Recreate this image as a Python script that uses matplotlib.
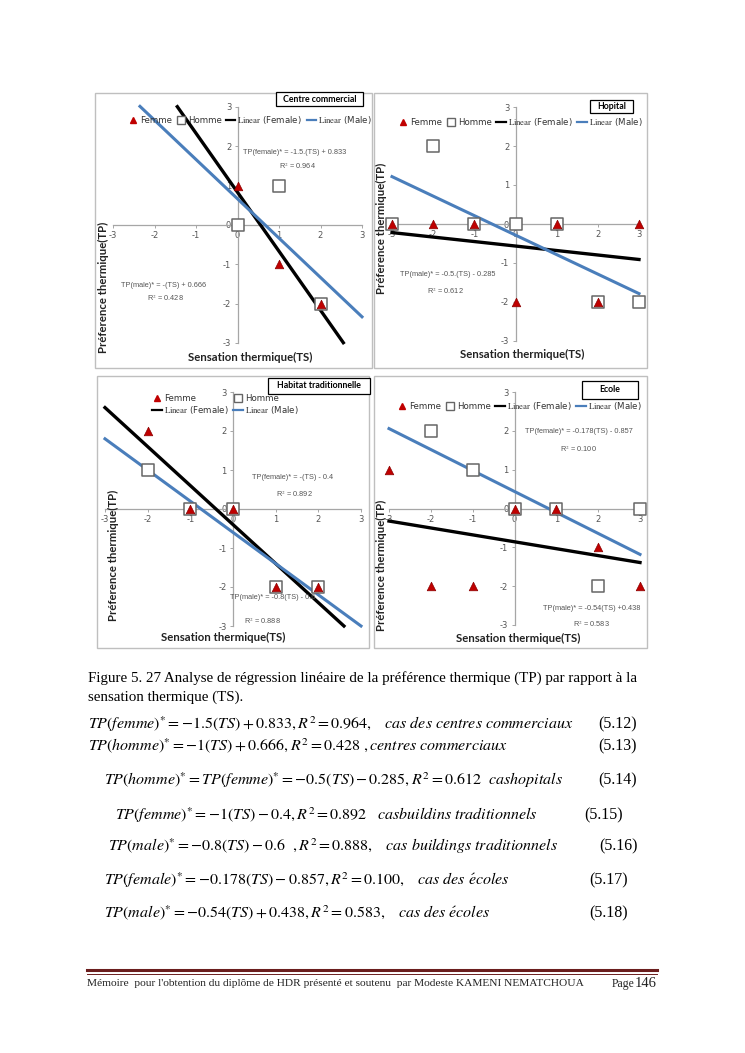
import matplotlib
matplotlib.use("Agg")
import matplotlib.pyplot as plt
from matplotlib.lines import Line2D
from matplotlib.patches import Rectangle
import numpy as np

plt.rcParams['mathtext.fontset'] = 'stix'

W, H = 745, 1053
fig = plt.figure(figsize=(W / 100, H / 100), dpi=100)
fig.patch.set_facecolor('white')

# ---------------- data ----------------
titles = ["Centre commercial", "Hopital", "Habitat traditionnelle", "Ecole"]

femme_x = [[0, 1, 2], [-3, -2, -1, 1, 3, 0, 2], [-2, -1, 0, 1, 2], [-3, -2, -1, 0, 1, 2, 3]]
femme_y = [[1, -1, -2], [0, 0, 0, 0, 0, -2, -2], [2, 0, 0, -2, -2], [1, -2, -2, 0, 0, -1, -2]]
homme_x = [[0, 1, 2], [-3, -2, -1, 0, 1, 2, 3], [-2, -1, 0, 1, 2], [-2, -1, 0, 1, 2, 3]]
homme_y = [[0, 1, -2], [0, 2, 0, 0, 0, -2, -2], [1, 0, 0, -2, -2], [2, 1, 0, 0, -2, 0]]

# trendlines: slope, intercept, x-range
fem_slope = [-1.5, -0.115, -1.0, -0.178]
fem_icpt = [0.833, -0.565, -0.4, -0.857]
fem_range = [(-1.45, 2.55), (-3, 3), (-3, 2.6), (-3, 3)]
mal_slope = [-1.0, -0.5, -0.8, -0.54]
mal_icpt = [0.666, -0.285, -0.6, 0.438]
mal_range = [(-2.35, 3), (-3, 3), (-3, 3), (-3, 3)]

ticks = [-3, -2, -1, 0, 1, 2, 3]
tick_labels = ["-3", "-2", "-1", "0", "1", "2", "3"]

# equation annotations in each panel: (text, x, y)
annots = [
    [("TP(female)* = -1.5.(TS) + 0.833", 1.37, 1.85), ("R$^2$ = 0.964", 1.45, 1.49),
     ("TP(male)* = -(TS) + 0.666", -1.78, -1.54), ("R$^2$ = 0.428", -1.73, -1.87)],
    [("TP(male)* = -0.5.(TS) - 0.285", -1.65, -1.29), ("R$^2$ = 0.612", -1.7, -1.73)],
    [("TP(female)* = -(TS) - 0.4", 1.4, 0.82), ("R$^2$ = 0.892", 1.43, 0.38),
     ("TP(male)* = -0.8(TS) - 0.6", 0.94, -2.26), ("R$^2$ = 0.888", 0.7, -2.87)],
    [("TP(female)* = -0.178(TS) - 0.857", 1.53, 1.98), ("R$^2$ = 0.100", 1.53, 1.52),
     ("TP(male)* = -0.54(TS) +0.438", 1.84, -2.58), ("R$^2$ = 0.583", 1.84, -2.99)],
]

# ---------------- layout (pixels) ----------------
def fx(px):
    return px / W

def fy(py):
    return 1 - py / H

axes_px = [(113, 107, 362, 343), (392, 107, 639, 341), (105, 392, 361, 626), (389, 392, 640, 625)]
frame_px = [(95, 93, 372, 368), (374, 93, 647, 368), (97, 376, 369, 648), (374, 376, 647, 648)]
title_px = [(276, 92, 363, 106), (590, 100, 633, 113), (268, 378, 370, 394), (582, 381, 638, 399)]
legend_pos = [(0.55, 0.945, 4), (0.52, 0.936, 4), (0.47, 0.944, 2), (0.52, 0.94, 4)]
ylab_px = [(103, 287), (381, 228), (113, 555), (381, 565)]
xlab_px = [(250, 357), (522, 354), (223, 637), (518, 638)]

BLUE = '#4A7EBB'
RED = '#C00000'
GRAY = '#A6A6A6'

for i in range(4):
    # outer frame
    x0, y0, x1, y1 = frame_px[i]
    fig.patches.append(Rectangle((fx(x0), fy(y1)), fx(x1) - fx(x0), fy(y0) - fy(y1),
                                 transform=fig.transFigure, fill=False, edgecolor='#BFBFBF', lw=1.0))
    a0, b0, a1, b1 = axes_px[i]
    ax = fig.add_axes([fx(a0), fy(b1), fx(a1) - fx(a0), fy(b0) - fy(b1)])
    ax.set_xlim(-3, 3)
    ax.set_ylim(-3, 3)
    ax.patch.set_alpha(0)
    for s in ['top', 'right']:
        ax.spines[s].set_visible(False)
    for s in ['left', 'bottom']:
        ax.spines[s].set_position(('data', 0))
        ax.spines[s].set_color(GRAY)
        ax.spines[s].set_linewidth(0.9)
    ax.set_xticks(ticks)
    ax.set_xticklabels(tick_labels)
    ax.set_yticks(ticks)
    ax.set_yticklabels(tick_labels)
    ax.tick_params(axis='both', direction='out', length=2.5, width=0.7, color=GRAY,
                   labelsize=6, labelcolor='#555555', pad=2)

    xf = np.array(fem_range[i])
    ax.plot(xf, fem_slope[i] * xf + fem_icpt[i], color='black', lw=2.4, zorder=3, clip_on=False)
    xm = np.array(mal_range[i])
    ax.plot(xm, mal_slope[i] * xm + mal_icpt[i], color=BLUE, lw=2.2, zorder=3, clip_on=False)

    ax.scatter(homme_x[i], homme_y[i], marker='s', s=70, facecolor='white', edgecolor='#666666',
               linewidth=1.1, zorder=4, clip_on=False)
    ax.scatter(femme_x[i], femme_y[i], marker='^', s=38, color=RED, edgecolor='#8B0000',
               linewidth=0.5, zorder=5, clip_on=False)

    for t, xx, yy in annots[i]:
        ax.text(xx, yy, t, fontsize=5.3, color='#555555', ha='center', va='center',
                family='Liberation Sans', zorder=6)

    h_f = Line2D([], [], marker='^', ls='none', color=RED, markersize=5)
    h_h = Line2D([], [], marker='s', ls='none', markerfacecolor='white', markeredgecolor='#666666',
                 markersize=5.5)
    h_lf = Line2D([], [], color='black', lw=1.6)
    h_lm = Line2D([], [], color=BLUE, lw=1.6)
    lf = r"$\mathrm{Linear}$ (Female)"
    lm = r"$\mathrm{Linear}$ (Male)"
    lx, ly, nc = legend_pos[i]
    if nc == 4:
        hs = [h_f, h_h, h_lf, h_lm]
        ls = ["Femme", "Homme", lf, lm]
    else:
        hs = [h_f, h_lf, h_h, h_lm]
        ls = ["Femme", lf, "Homme", lm]
    leg = ax.legend(hs, ls, loc='center', bbox_to_anchor=(lx, ly), ncol=nc, frameon=False,
                    fontsize=6.2, handlelength=1.1, handletextpad=0.25, columnspacing=0.5,
                    borderaxespad=0, labelspacing=0.2)
    for txt in leg.get_texts():
        txt.set_color('#333333')

    # title box
    tx0, ty0, tx1, ty1 = title_px[i]
    fig.patches.append(Rectangle((fx(tx0), fy(ty1)), fx(tx1) - fx(tx0), fy(ty0) - fy(ty1),
                                 transform=fig.transFigure, facecolor='white', edgecolor='black',
                                 lw=0.9, zorder=10))
    fig.text(fx((tx0 + tx1) / 2), fy((ty0 + ty1) / 2), titles[i], ha='center', va='center',
             fontsize=6.3, family='Lato', weight='bold', zorder=11)

    # axis labels
    fig.text(fx(ylab_px[i][0]), fy(ylab_px[i][1]), "Préference thermique(TP)", rotation=90,
             ha='center', va='center', fontsize=8.2, family='Lato', weight='bold', color='#222222')
    fig.text(fx(xlab_px[i][0]), fy(xlab_px[i][1]), "Sensation thermique(TS)",
             ha='center', va='center', fontsize=8.2, family='Lato', weight='bold', color='#222222')

# ---------------- caption ----------------
fig.text(fx(88), fy(678), "Figure 5. 27 Analyse de régression linéaire de la préférence thermique (TP) par rapport à la",
         ha='left', va='center', fontsize=10.85, family='Liberation Serif')
fig.text(fx(88), fy(697), "sensation thermique (TS).", ha='left', va='center', fontsize=10.85,
         family='Liberation Serif')

equations = [
    (r"$TP(femme)^{*} = -1.5(TS) + 0.833, R^2 = 0.964,\ \ \ cas\ des\ centres\ commerciaux$", 88, 724, "(5.12)", 637),
    (r"$TP(homme)^{*} = -1(TS) + 0.666, R^2 = 0.428\ ,centres\ commerciaux$", 88, 746, "(5.13)", 637),
    (r"$TP(homme)^{*} = TP(femme)^{*} = -0.5(TS) - 0.285, R^2 = 0.612\ \ cashopitals$", 104, 780, "(5.14)", 637),
    (r"$TP(femme)^{*} = -1(TS) - 0.4, R^2 = 0.892\ \ \ casbuildins\ traditionnels$", 115, 815, "(5.15)", 623),
    (r"$TP(male)^{*} = -0.8(TS) - 0.6\ \ , R^2 = 0.888,\ \ \ cas\ buildings\ traditionnels$", 108, 846, "(5.16)", 638),
    (r"$TP(female)^{*} = -0.178(TS) - 0.857, R^2 = 0.100,\ \ \ cas\ des\ \acute{e}coles$", 104, 880, "(5.17)", 628),
    (r"$TP(male)^{*} = -0.54(TS) + 0.438, R^2 = 0.583,\ \ \ cas\ des\ \acute{e}coles$", 104, 913, "(5.18)", 628),
]
for eq, ex, ey, num, nx in equations:
    fig.text(fx(ex), fy(ey), eq, ha='left', va='center', fontsize=11.5)
    fig.text(fx(nx), fy(ey), num, ha='right', va='center', fontsize=11.5, family='Liberation Serif')

# ---------------- footer ----------------
fig.add_artist(Line2D([fx(87), fx(657)], [fy(970), fy(970)], color='#6B1E1E', lw=2.2))
fig.add_artist(Line2D([fx(87), fx(657)], [fy(973.5), fy(973.5)], color='#6B1E1E', lw=0.7))
fig.text(fx(87), fy(984), "Mémoire  pour l'obtention du diplôme de HDR présenté et soutenu  par Modeste KAMENI NEMATCHOUA",
         ha='left', va='center', fontsize=8.2, family='Liberation Serif', color='#222222')
fig.text(fx(634), fy(984), "Page", ha='right', va='center', fontsize=8.4,
         family='Liberation Serif', color='#222222')
fig.text(fx(657), fy(983.5), "146", ha='right', va='center', fontsize=10.5,
         family='Liberation Serif', color='#222222')

fig.savefig("out.png", dpi=100)
